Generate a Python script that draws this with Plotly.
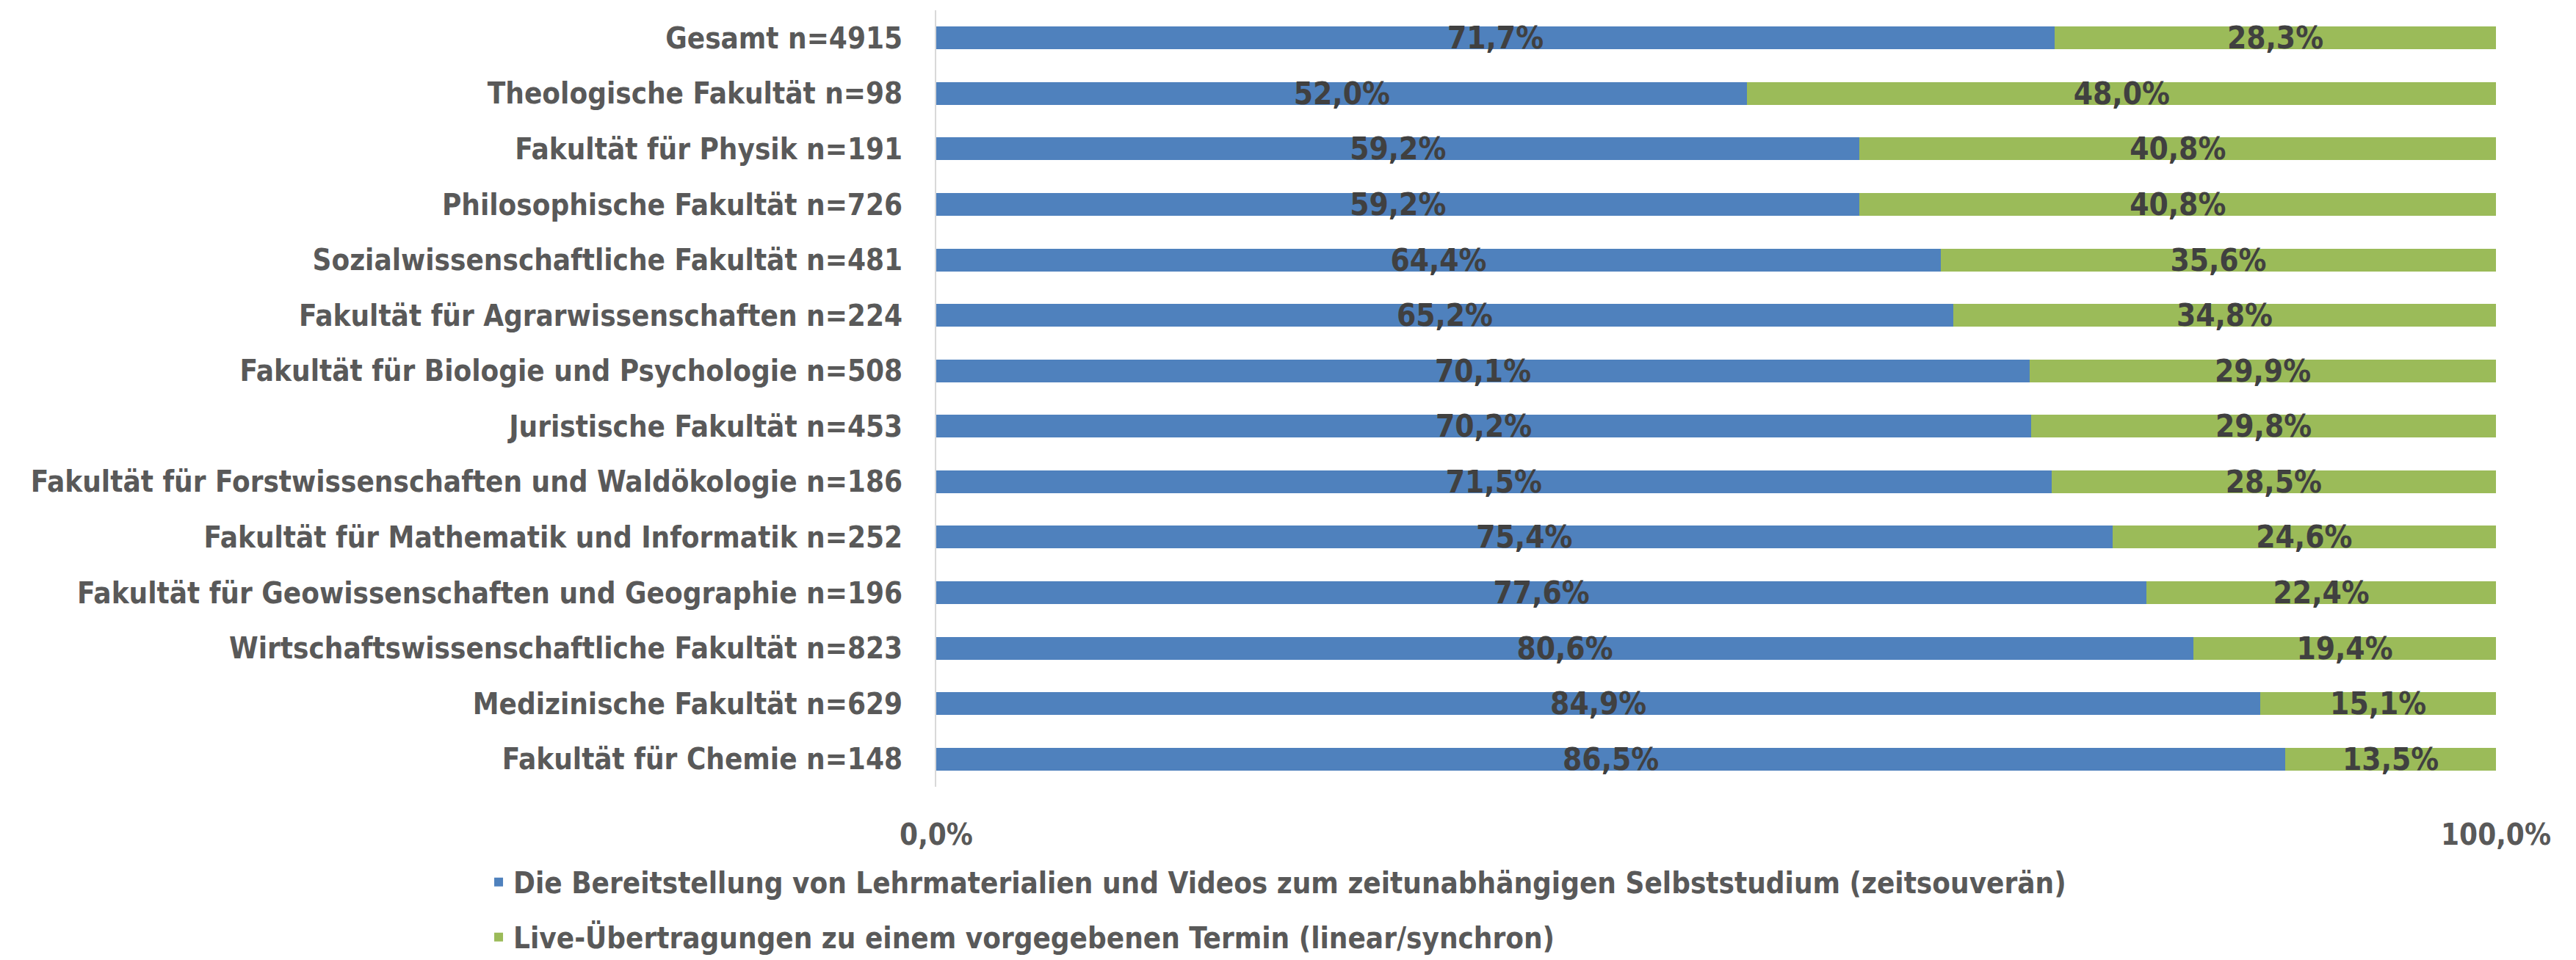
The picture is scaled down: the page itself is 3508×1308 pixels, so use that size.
import plotly.graph_objects as go

categories = [
    "Gesamt n=4915",
    "Theologische Fakultät n=98",
    "Fakultät für Physik n=191",
    "Philosophische Fakultät n=726",
    "Sozialwissenschaftliche Fakultät n=481",
    "Fakultät für Agrarwissenschaften n=224",
    "Fakultät für Biologie und Psychologie n=508",
    "Juristische Fakultät n=453",
    "Fakultät für Forstwissenschaften und Waldökologie n=186",
    "Fakultät für Mathematik und Informatik n=252",
    "Fakultät für Geowissenschaften und Geographie n=196",
    "Wirtschaftswissenschaftliche Fakultät n=823",
    "Medizinische Fakultät n=629",
    "Fakultät für Chemie n=148",
]
zeitsouveraen = [0.717, 0.520, 0.592, 0.592, 0.644, 0.652, 0.701, 0.702, 0.715, 0.754, 0.776, 0.806, 0.849, 0.865]
synchron = [0.283, 0.480, 0.408, 0.408, 0.356, 0.348, 0.299, 0.298, 0.285, 0.246, 0.224, 0.194, 0.151, 0.135]
series_names = [
    "Die Bereitstellung von Lehrmaterialien und Videos zum zeitunabhängigen Selbststudium (zeitsouverän)",
    "Live-Übertragungen zu einem vorgegebenen Termin (linear/synchron)",
]
tick_vals = [0, 1]

FONT = "DejaVu Sans Condensed, sans-serif"
GREY = "#595959"
DARK = "#404040"
FS = 42
FS_CAT = 40

fig = go.Figure()
for vals, name, color, grp in [
    (zeitsouveraen, series_names[0], "#4F81BD", "a"),
    (synchron, series_names[1], "#9BBB59", "b"),
]:
    fig.add_trace(go.Bar(
        y=categories, x=vals, name=name, orientation="h",
        marker=dict(color=color, line=dict(width=0)),
        texttemplate="%{x:.1%}", textposition="inside", insidetextanchor="middle",
        textangle=0, constraintext="none",
        textfont=dict(family=FONT, size=FS, color=DARK, weight="bold"),
        legendgroup=grp, hoverinfo="skip",
    ))

fig.update_layout(
    width=3508, height=1308,
    barmode="stack", bargap=0.59,
    separators=",.",
    paper_bgcolor="white", plot_bgcolor="white",
    margin=dict(l=1267, r=117, t=6, b=244, autoexpand=False),
    font=dict(family=FONT, size=FS, color=GREY, weight="bold"),
    xaxis=dict(range=[0, 1], tickvals=tick_vals, tickformat=".1%",
               showgrid=True, gridcolor="#D9D9D9", gridwidth=2,
               zeroline=False, showline=False, automargin=False,
               ticks="outside", ticklen=30, tickcolor="rgba(0,0,0,0)",
               tickfont=dict(family=FONT, size=FS_CAT, color=GREY, weight="bold")),
    yaxis=dict(autorange="reversed", showline=True, linecolor="#D9D9D9", linewidth=2,
               automargin=False,
               ticks="outside", ticklen=36, tickcolor="rgba(0,0,0,0)",
               tickfont=dict(family=FONT, size=FS_CAT, color=GREY, weight="bold")),
    legend=dict(orientation="v", x=-0.29, xanchor="left", y=-0.092, yanchor="top",
                traceorder="grouped", tracegroupgap=20,
                font=dict(family=FONT, size=FS_CAT, color=GREY, weight="bold")),
    showlegend=True,
)

fig.write_html("out.html")
